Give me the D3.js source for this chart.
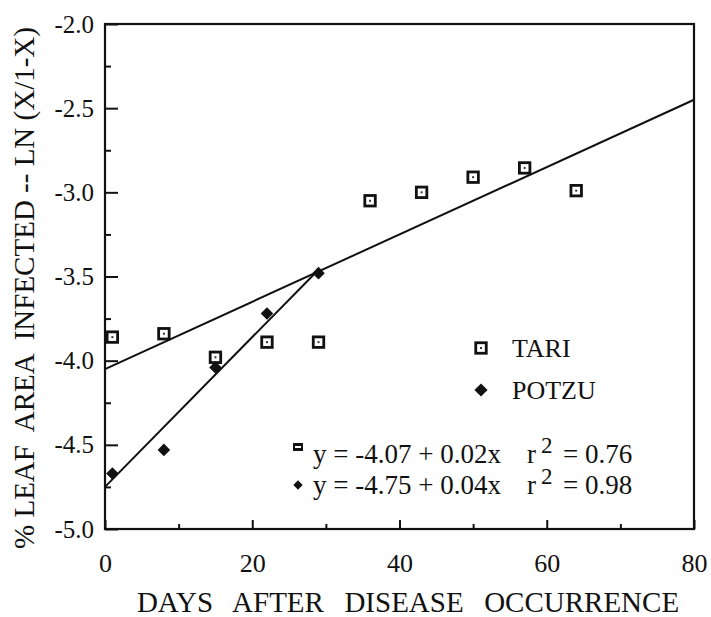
<!DOCTYPE html>
<html>
<head>
<meta charset="utf-8">
<script src="https://cdn.jsdelivr.net/npm/d3@7"></script>
</head>
<body style="margin:0">
<div id="chart"></div>
<script>
// values
const days = [1, 8, 15, 22, 29, 36, 43, 50, 57, 64];
const tariValues = [-3.86, -3.84, -3.98, -3.89, -3.89, -3.05, -3.00, -2.91, -2.855, -2.99];
const potzuDays = [1, 8, 15, 22, 29];
const potzuValues = [-4.67, -4.53, -4.04, -3.72, -3.48];

// fitted lines as drawn: [intercept, slope], x range
const tariFit = [-4.05, 0.02];
const tariFitRange = [0, 80];
const potzuFit = [-4.75, 0.0445];
const potzuFitRange = [0, 29];

const xTicks = [0, 20, 40, 60, 80];
const yTicks = [-2.0, -2.5, -3.0, -3.5, -4.0, -4.5, -5.0];
const equations = [
  { name: 'TARI', eq: 'y = -4.07 + 0.02x', r2: '= 0.76' },
  { name: 'POTZU', eq: 'y = -4.75 + 0.04x', r2: '= 0.98' }
];

const width = 711, height = 617;
const plotLeft = 105, plotRight = 694, plotTop = 24, plotBottom = 529;
const serif = '"Liberation Serif"';

const svg = d3.select('#chart').append('svg')
  .attr('width', width).attr('height', height);

const x = d3.scaleLinear().domain([0, 80]).range([plotLeft, plotRight]);
const y = d3.scaleLinear().domain([-5, -2]).range([plotBottom, plotTop]);

// minor ticks
svg.append('g')
  .attr('transform', `translate(${plotLeft},0)`)
  .call(d3.axisLeft(y).tickValues(d3.range(-4.75, -2, 0.5)).tickSize(-6).tickFormat(''))
  .call(g => g.select('.domain').remove());
svg.append('g')
  .attr('transform', `translate(0,${plotBottom})`)
  .call(d3.axisBottom(x).tickValues([10, 30, 50, 70]).tickSize(-5).tickFormat(''))
  .call(g => g.select('.domain').remove());

// major ticks + labels
svg.append('g')
  .attr('transform', `translate(${plotLeft},0)`)
  .call(d3.axisLeft(y).tickValues(yTicks).tickSize(-13).tickPadding(11).tickFormat(d => d.toFixed(1)))
  .call(g => g.select('.domain').remove())
  .call(g => g.selectAll('text').style('font-size', '25px'));
svg.append('g')
  .attr('transform', `translate(0,${plotBottom})`)
  .call(d3.axisBottom(x).tickValues(xTicks).tickSize(-9).tickPadding(25).tickFormat(d => String(d)))
  .call(g => g.select('.domain').remove())
  .call(g => g.selectAll('text').style('font-size', '26px'));

svg.selectAll('.tick line').attr('stroke', '#111').attr('stroke-width', 2);

// frame
svg.append('rect')
  .attr('x', plotLeft).attr('y', plotTop)
  .attr('width', plotRight - plotLeft).attr('height', plotBottom - plotTop)
  .attr('fill', 'none').attr('stroke', '#111').attr('stroke-width', 2.2);

// axis titles
svg.append('text')
  .attr('x', 408).attr('y', 612)
  .attr('text-anchor', 'middle')
  .style('font-size', '29px').style('white-space', 'pre').style('word-spacing', '3px')
  .text('DAYS  AFTER  DISEASE  OCCURRENCE');

svg.append('text')
  .attr('transform', 'translate(34,288) rotate(-90)')
  .attr('text-anchor', 'middle')
  .style('font-size', '29px').style('white-space', 'pre')
  .text('% LEAF  AREA  INFECTED -- LN (X/1-X)');

// fit lines
const fitLine = (fit, range) => d3.line()(range.map(d => [x(d), y(fit[0] + fit[1] * d)]));
svg.append('path').attr('d', fitLine(tariFit, tariFitRange))
  .attr('stroke', '#111').attr('stroke-width', 2).attr('fill', 'none');
svg.append('path').attr('d', fitLine(potzuFit, potzuFitRange))
  .attr('stroke', '#111').attr('stroke-width', 2).attr('fill', 'none');

// markers
function square(g, cx, cy, s) {
  g.append('rect').attr('x', cx - s / 2).attr('y', cy - s / 2)
    .attr('width', s).attr('height', s)
    .attr('fill', '#fff').attr('stroke', '#111').attr('stroke-width', 2.8);
  g.append('rect').attr('x', cx - 1).attr('y', cy - 1)
    .attr('width', 2).attr('height', 2).attr('fill', '#333');
}
const diamond = d3.symbol().type(d3.symbolDiamond2);

svg.append('g').selectAll('g')
  .data(days.map((d, i) => [d, tariValues[i]]))
  .join('g')
  .each(function (d) { square(d3.select(this), x(d[0]), y(d[1]), 10.5); });

svg.append('g').selectAll('path')
  .data(potzuDays.map((d, i) => [d, potzuValues[i]]))
  .join('path')
  .attr('transform', d => `translate(${x(d[0])},${y(d[1])})`)
  .attr('d', diamond.size(100)())
  .attr('fill', '#111');

// legend
square(svg, 481, 348, 10.5);
svg.append('text').attr('x', 512).attr('y', 357).style('font-size', '26px').text('TARI');
svg.append('path').attr('transform', 'translate(481,390)').attr('d', diamond.size(110)()).attr('fill', '#111');
svg.append('text').attr('x', 512).attr('y', 399).style('font-size', '26px').text('POTZU');

// equations
const eqY = [463, 494];
equations.forEach((e, i) => {
  const t = svg.append('text').attr('y', eqY[i]).style('font-size', '27px');
  t.append('tspan').attr('x', 313).text(e.eq);
  t.append('tspan').attr('x', 527).text('r');
  t.append('tspan').attr('x', 541).attr('dy', -10).style('font-size', '23px').text('2');
  t.append('tspan').attr('x', 563).attr('dy', 10).text(e.r2);
});
svg.append('rect').attr('x', 293).attr('y', 443).attr('width', 10).attr('height', 8)
  .attr('fill', '#111');
svg.append('rect').attr('x', 295).attr('y', 446).attr('width', 6).attr('height', 2)
  .attr('fill', '#fff');
svg.append('path').attr('transform', 'translate(298,485)').attr('d', diamond.size(55)()).attr('fill', '#111');

// serif type everywhere, set inline so it wins over the axis defaults
svg.selectAll('text').style('font-family', serif).attr('fill', '#111');
</script>
</body>
</html>
